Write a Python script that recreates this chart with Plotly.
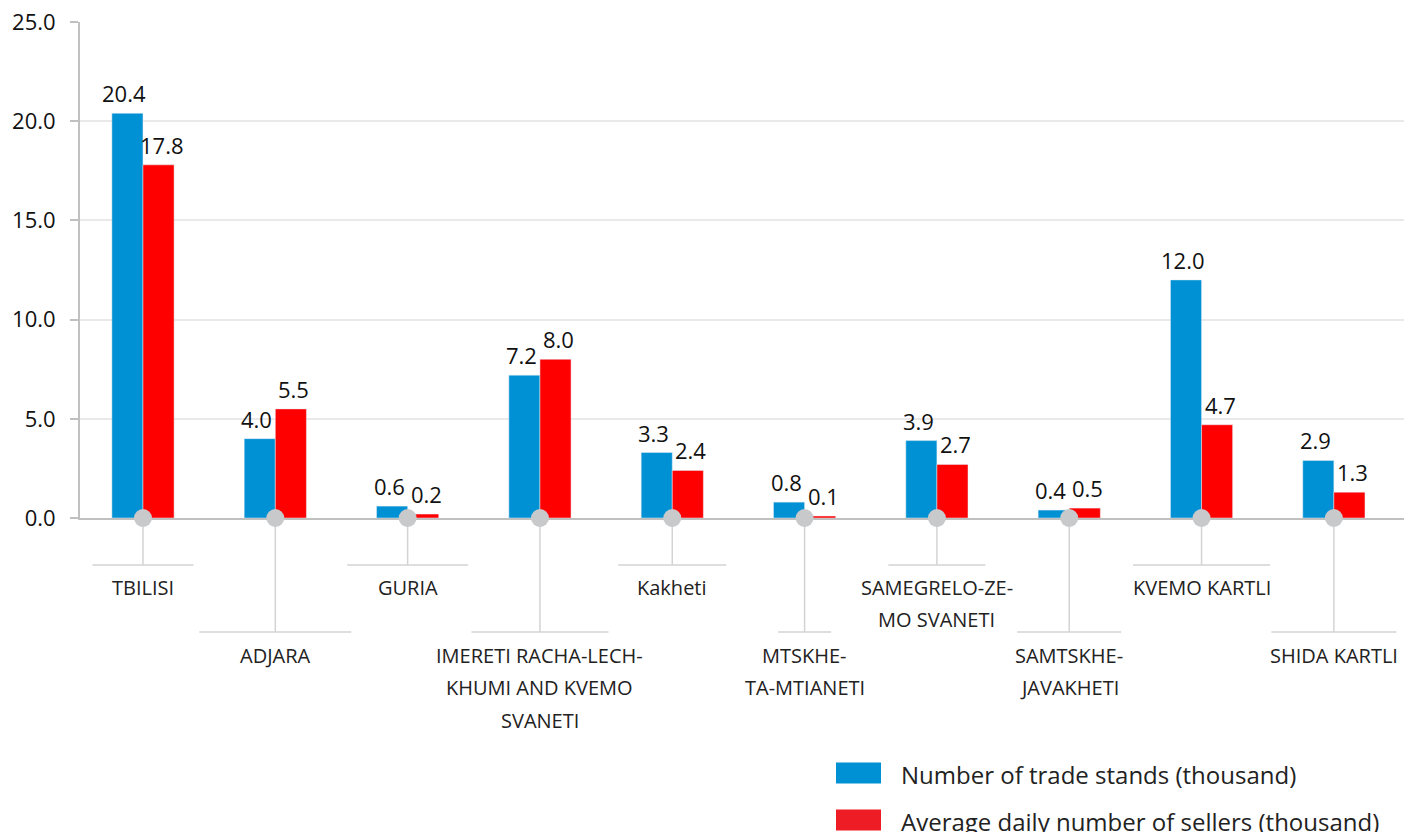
import plotly.graph_objects as go

# ---- data ----
regions = [
    "TBILISI",
    "ADJARA",
    "GURIA",
    "IMERETI RACHA-LECH-<br>KHUMI AND KVEMO<br>SVANETI",
    "Kakheti",
    "MTSKHE-<br>TA-MTIANETI",
    "SAMEGRELO-ZE-<br>MO SVANETI",
    "SAMTSKHE-<br>JAVAKHETI",
    "KVEMO KARTLI",
    "SHIDA KARTLI",
]
trade_stands = [20.4, 4.0, 0.6, 7.2, 3.3, 0.8, 3.9, 0.4, 12.0, 2.9]
sellers = [17.8, 5.5, 0.2, 8.0, 2.4, 0.1, 2.7, 0.5, 4.7, 1.3]
series_names = ["Number of trade stands (thousand)",
                "Average daily number of sellers (thousand)"]
y_ticks = [0, 5, 10, 15, 20, 25]

# ---- styles ----
W, H = 1424, 832
OFF = 8  # page body margin
# screen positions of the plot area
SL, SR, ST, SB = 80, 1404, 22, 518
L, T = SL - OFF, ST - OFF
R, B = W - (SR - OFF), H - (SB - OFF)
PW, PH = SR - SL, SB - ST
BLUE = "#0091d4"
RED = "#ff0000"
LEG_BLUE = "#0091d5"
LEG_RED = "#ee1c25"
GRAY_LINE = "#d3d3d3"
AXIS_GRAY = "#c0c0c0"
DOT_GRAY = "#c8c9cb"
FONT = "Open Sans"
BARGAP = 0.53
# leader line widths in px (style), and whether the label hangs low
leader_w = [101, 152, 121, 137, 108, 53, 97, 104, 137, 125]
low = [False, True, False, True, False, True, False, True, False, True]
X_RANGE = [-0.476, 9.53]
xscale = PW / (X_RANGE[1] - X_RANGE[0])


def py(p):  # screen y -> paper
    return (SB - p) / PH


def pxp(p):  # screen x -> paper
    return (p - SL) / PW


xs = list(range(len(regions)))
fig = go.Figure()
fig.add_trace(go.Bar(x=xs, y=trade_stands, name=series_names[0], marker_color=BLUE))
fig.add_trace(go.Bar(x=xs, y=sellers, name=series_names[1], marker_color=RED))

shapes = []
annots = []
half_bar = (1 - BARGAP) / 4  # center offset of each bar inside its group
for vals, sign in ((trade_stands, -1), (sellers, 1)):
    for i, v in enumerate(vals):
        annots.append(dict(xref="x", yref="y", x=i + sign * half_bar, y=v,
                           text=f"{v:.1f}", showarrow=False, xanchor="center",
                           yanchor="bottom", yshift=3, xshift=sign * 3,
                           font=dict(family=FONT, size=22, color="#111")))

for i, lab in enumerate(regions):
    hy = 632 if low[i] else 565
    shapes.append(dict(type="line", xref="x", yref="paper", x0=i, x1=i, y0=0, y1=py(hy),
                       line=dict(color=GRAY_LINE, width=1.5), layer="below"))
    hw = leader_w[i] / 2 / xscale
    shapes.append(dict(type="line", xref="x", yref="paper", x0=i - hw, x1=i + hw,
                       y0=py(hy), y1=py(hy), line=dict(color=GRAY_LINE, width=1.5)))
    shapes.append(dict(type="circle", xref="x", yref="paper", xsizemode="pixel",
                       ysizemode="pixel", xanchor=i, yanchor=0, x0=-9, x1=9, y0=-9, y1=9,
                       fillcolor=DOT_GRAY, line=dict(width=0), layer="above"))
    first = (655 if low[i] else 587)
    for k, line in enumerate(lab.split("<br>")):
        annots.append(dict(xref="x", yref="paper", x=i, y=py(first + 32.5 * k),
                           text=line, showarrow=False, xanchor="center", yanchor="middle",
                           font=dict(family=FONT, size=20, color="#222")))

# manual legend
for j, (name, col) in enumerate(zip(series_names, [LEG_BLUE, LEG_RED])):
    cy = 773 + 47 * j
    shapes.append(dict(type="rect", xref="paper", yref="paper",
                       x0=pxp(836), x1=pxp(881), y0=py(cy - 10.5), y1=py(cy + 10.5),
                       fillcolor=col, line=dict(width=0)))
    annots.append(dict(xref="paper", yref="paper", x=pxp(899), y=py(cy + 1), text=name,
                       showarrow=False, xanchor="left", yanchor="middle",
                       font=dict(family=FONT, size=24, color="#222")))

fig.update_layout(
    width=W, height=H,
    margin=dict(l=L, r=R, t=T, b=B, autoexpand=False),
    plot_bgcolor="white", paper_bgcolor="white",
    barmode="group", bargap=BARGAP, bargroupgap=0,
    showlegend=False,
    shapes=shapes, annotations=annots,
    font=dict(family=FONT, color="#111"),
    xaxis=dict(range=X_RANGE, showticklabels=False, showgrid=False, zeroline=False,
               showline=True, linecolor=AXIS_GRAY, linewidth=2, ticks=""),
    yaxis=dict(range=[0, 25], tickvals=y_ticks, tickformat=".1f",
               showgrid=True, gridcolor="#e9e9e9", gridwidth=1.5,
               zeroline=False, showline=True, linecolor=AXIS_GRAY, linewidth=2,
               ticks="outside", ticklen=8, tickcolor=AXIS_GRAY, tickwidth=2,
               ticklabelstandoff=10, ticklabeloverflow="allow",
               tickfont=dict(family=FONT, size=22, color="#111")),
)

fig.write_html("out.html")
